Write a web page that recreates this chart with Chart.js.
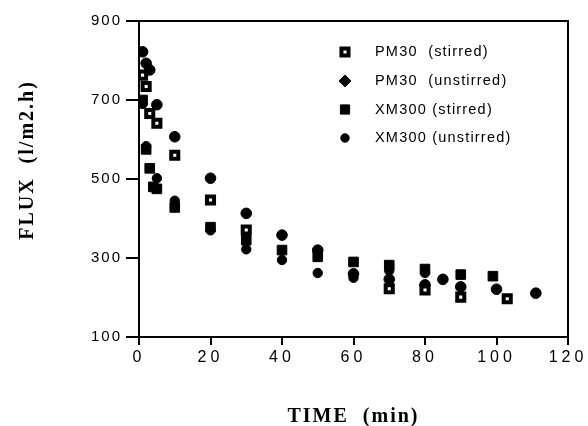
<!DOCTYPE html>
<html><head><meta charset="utf-8">
<script src="https://cdn.jsdelivr.net/npm/chart.js@4/dist/chart.umd.min.js"></script>
<style>html,body{margin:0;padding:0;background:#fff}#wrap{width:588px;height:426px}</style>
</head><body><div id="wrap"><canvas id="c" width="588" height="426"></canvas></div>
<script>
// ---- data ----
const xTickValues = [0, 20, 40, 60, 80, 100, 120];
const yTickValues = [100, 300, 500, 700, 900];
const seriesNames = ["PM30  (stirred)", "PM30  (unstirred)", "XM300 (stirred)", "XM300 (unstirred)"];
const xTitle = "TIME  (min)";
const yTitle = "FLUX  (l/m2.h)";

const pm30StirredTime = [1, 2, 3, 5, 10, 20, 30, 70, 80, 90, 103];
const pm30StirredFlux = [763, 734, 666, 641, 560, 447, 371, 222, 219, 201, 197];

const pm30UnstirredTime = [1, 2, 3, 5, 10, 20, 30, 40, 50, 60, 70, 80, 85, 90, 100, 111];
const pm30UnstirredFlux = [822, 793, 776, 688, 607, 502, 413, 358, 320, 260, 246, 232, 246, 227, 221, 211];

const xm300StirredTime = [1, 2, 3, 4, 5, 10, 20, 30, 40, 50, 60, 70, 80, 90, 99];
const xm300StirredFlux = [700, 575, 527, 480, 475, 428, 378, 345, 320, 303, 290, 282, 272, 258, 254];

const xm300UnstirredTime = [1, 2, 5, 10, 20, 30, 40, 50, 60, 70, 80];
const xm300UnstirredFlux = [690, 583, 502, 445, 370, 322, 295, 262, 250, 268, 262];

function pts(t, v) { return t.map((x, i) => ({ x: x, y: v[i] })); }

const PL = { left: 139, right: 568, top: 21, bottom: 337 };

const styles = [
  { pointStyle: 'rect', radius: 5, bg: '#fff', bw: 4 },
  { pointStyle: 'circle', radius: 5.3, bg: '#000', bw: 1 },
  { pointStyle: 'rect', radius: 6.8, bg: '#000', bw: 1 },
  { pointStyle: 'circle', radius: 4.7, bg: '#000', bw: 1 }
];
const legendStyles = [
  { pointStyle: 'rect', radius: 5, bg: '#fff', bw: 4 },
  { pointStyle: 'rectRot', radius: 6, bg: '#000', bw: 1 },
  { pointStyle: 'rect', radius: 6.5, bg: '#000', bw: 1 },
  { pointStyle: 'circle', radius: 4.2, bg: '#000', bw: 1 }
];

const dataSets = [
  pts(pm30StirredTime, pm30StirredFlux),
  pts(pm30UnstirredTime, pm30UnstirredFlux),
  pts(xm300StirredTime, xm300StirredFlux),
  pts(xm300UnstirredTime, xm300UnstirredFlux)
];

const datasets = dataSets.map((d, i) => ({
  label: seriesNames[i],
  data: d,
  showLine: false,
  pointStyle: styles[i].pointStyle,
  pointRadius: styles[i].radius,
  pointHoverRadius: styles[i].radius,
  pointBackgroundColor: styles[i].bg,
  pointBorderColor: '#000',
  pointBorderWidth: styles[i].bw,
  backgroundColor: styles[i].bg,
  borderColor: '#000'
}));

function wrapSpacing(scale, method, spacing) {
  const flag = '_wrapped_' + method;
  if (scale[flag]) return;
  const orig = scale[method];
  scale[method] = function () {
    const c = this.ctx; const prev = c.letterSpacing;
    c.letterSpacing = spacing;
    const r = orig.apply(this, arguments);
    c.letterSpacing = prev || '0px';
    return r;
  };
  scale[flag] = true;
}

const framePlugin = {
  id: 'frame',
  afterLayout(chart) {
    wrapSpacing(chart.scales.x, 'drawLabels', '4px');
    wrapSpacing(chart.scales.y, 'drawLabels', '2px');
    wrapSpacing(chart.scales.x, 'drawTitle', '2px');
  },
  beforeDatasetsDraw(chart) {
    const ctx = chart.ctx, a = chart.chartArea;
    ctx.save();
    ctx.strokeStyle = '#000';
    ctx.lineWidth = 2;
    ctx.beginPath();
    ctx.moveTo(a.left - 1, a.top);
    ctx.lineTo(a.right, a.top);
    ctx.lineTo(a.right, a.bottom + 1);
    ctx.stroke();
    ctx.restore();
  },
  afterDraw(chart) {
    const ctx = chart.ctx;
    // y axis title
    ctx.save();
    ctx.fillStyle = '#000';
    ctx.letterSpacing = '2px';
    ctx.font = 'bold 20px "Liberation Serif", "Times New Roman", serif';
    ctx.textAlign = 'center';
    ctx.textBaseline = 'middle';
    ctx.translate(28, 160);
    ctx.rotate(-Math.PI / 2);
    ctx.fillText(yTitle, 0, 0);
    ctx.restore();
    // legend
    const rows = [52, 81, 109.5, 138];
    ctx.save();
    ctx.letterSpacing = '1.2px';
    ctx.font = '14.5px "Liberation Sans", Arial, sans-serif';
    ctx.textAlign = 'left';
    ctx.textBaseline = 'middle';
    seriesNames.forEach((name, i) => {
      const s = legendStyles[i];
      ctx.fillStyle = s.bg;
      ctx.strokeStyle = '#000';
      ctx.lineWidth = s.bw;
      Chart.helpers.drawPoint(ctx, { pointStyle: s.pointStyle, radius: s.radius, rotation: 0, borderWidth: s.bw }, 345, rows[i]);
      ctx.fillStyle = '#000';
      ctx.fillText(name, 375, rows[i]);
    });
    ctx.restore();
  }
};

new Chart(document.getElementById('c'), {
  type: 'scatter',
  data: { datasets: datasets },
  options: {
    responsive: false,
    animation: false,
    devicePixelRatio: 1,
    layout: { padding: { left: 0, right: 588 - PL.right, top: PL.top, bottom: 0 } },
    plugins: { legend: { display: false }, tooltip: { enabled: false } },
    scales: {
      x: {
        type: 'linear', min: 0, max: 120,
        afterBuildTicks(s) { s.ticks = xTickValues.map(v => ({ value: v })); },
        afterFit(s) { s.height = 426 - PL.bottom; },
        ticks: { color: '#000', padding: 3, font: { family: '"Liberation Sans", Arial, sans-serif', size: 16 } },
        grid: { display: true, drawOnChartArea: false, drawTicks: true, tickLength: 8, color: '#000', lineWidth: 2 },
        border: { display: true, color: '#000', width: 2 },
        title: { display: true, text: xTitle, color: '#000', padding: { top: 0, bottom: -3 },
          font: { family: '"Liberation Serif", "Times New Roman", serif', size: 20, weight: 'bold' } }
      },
      y: {
        type: 'linear', min: 100, max: 900,
        afterBuildTicks(s) { s.ticks = yTickValues.map(v => ({ value: v })); },
        afterFit(s) { s.width = PL.left; },
        ticks: { color: '#000', padding: 4, font: { family: '"Liberation Sans", Arial, sans-serif', size: 15 } },
        grid: { display: true, drawOnChartArea: false, drawTicks: true, tickLength: 13, color: '#000', lineWidth: 2 },
        border: { display: true, color: '#000', width: 2 }
      }
    }
  },
  plugins: [framePlugin]
});
</script>
</body></html>
